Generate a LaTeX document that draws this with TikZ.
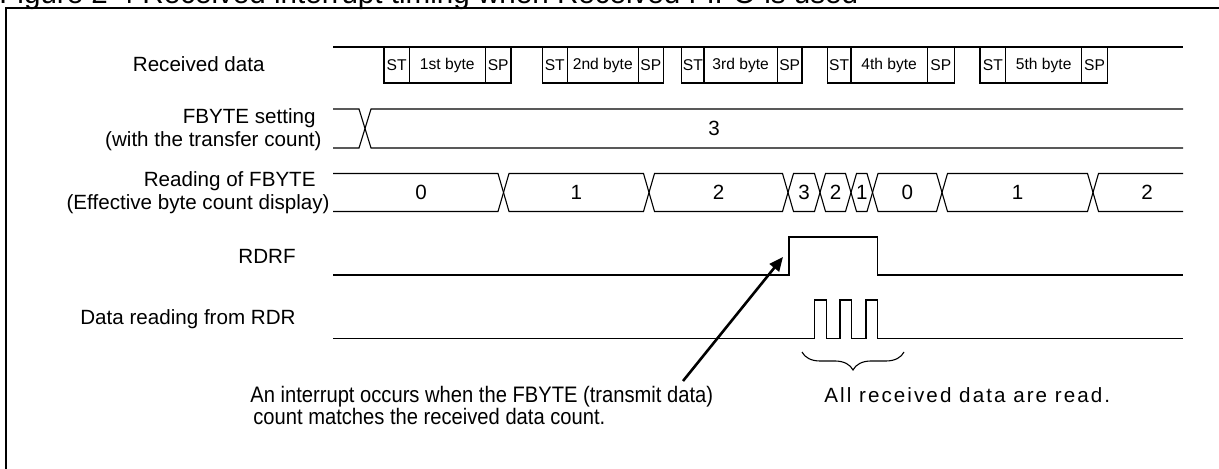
\documentclass[tikz,border=0pt]{standalone}
\usepackage{fontspec}
\setmainfont{Liberation Sans}
\usetikzlibrary{arrows.meta,decorations.pathreplacing}

\begin{document}
\begin{tikzpicture}[x=0.5pt,y=-0.5pt,
    sig/.style={line width=0.55pt},
    lbl/.style={anchor=base east, inner sep=0pt, font=\fontsize{10.3}{12}\selectfont},
    val/.style={inner sep=0pt, font=\fontsize{10.3}{12}\selectfont},
    bitlbl/.style={inner sep=0pt, font=\fontsize{7.8}{9}\selectfont},
    note/.style={anchor=base west, inner sep=0pt, font=\fontsize{10.3}{12}\selectfont},
    frame/.style={line width=1pt},
    arrow/.style={-{Triangle[length=7pt,width=6pt]}, line width=1.3pt}
]
\useasboundingbox (0,0) rectangle (1219,469);

% caption and frame
\node[anchor=base west, inner sep=0pt, font=\fontsize{14.8}{17}\selectfont] (title) at (-1,4)
    {Figure 2-4 Received interrupt timing when Received FIFO is used};
\draw[frame] (6,8) rectangle (1240,490);

% signal names
\node[lbl] (lrx) at (265,72) {Received data};
\node[lbl] (lfb1) at (316,124) {FBYTE setting};
\node[lbl] (lfb2) at (322,147) {(with the transfer count)};
\node[lbl] (lrd1) at (316,187) {Reading of FBYTE};
\node[lbl] (lrd2) at (330,210) {(Effective byte count display)};
\node[lbl] (lrdrf) at (296,264) {RDRF};
\node[lbl] (lrdr) at (296,325) {Data reading from RDR};

% received data frames
\draw[sig] (333,47) -- (1183,47);
\foreach \s/\m/\n/\e/\txt [count=\i] in {384/409.3/485.3/511/1st byte,
    542.3/567.3/638.3/663.3/2nd byte, 681.7/704/777.3/802/3rd byte,
    827.3/851/927.3/954.3/4th byte, 980/1005.7/1081.7/1107.3/5th byte}{
  \draw[sig] (\s,47) rectangle (\e,83);
  \draw[sig] (\m,47) -- (\m,83) (\n,47) -- (\n,83);
  \node[bitlbl] (st\i) at ({(\s+\m)/2},65) {ST};
  \node[bitlbl] (by\i) at ({(\m+\n)/2},65) {\txt};
  \node[bitlbl] (sp\i) at ({(\n+\e)/2},65) {SP};
}

% FBYTE setting
\draw[sig] (333,109) -- (359,109) -- (371,148) -- (1183,148);
\draw[sig] (333,148) -- (359,148) -- (371,109) -- (1183,109);
\node[val] (fb) at (714,128.5) {3};

% reading of FBYTE
\draw[sig] (333,173.5) -- (498,173.5) -- (503.5,192.5) -- (498,211.5) -- (333,211.5);
\node[val] (rd0) at (421,192.5) {0};
\foreach \a/\b/\t [count=\i] in {503.5/649/1, 649/788/2, 788/820/3, 820/851/2,
    851/872.5/1, 872.5/942/0, 942/1093/1}{
  \draw[sig] (\a,192.5) -- (\a+5.5,173.5) -- (\b-5.5,173.5) -- (\b,192.5)
    -- (\b-5.5,211.5) -- (\a+5.5,211.5) -- cycle;
  \node[val] (rd\i) at ({(\a+\b)/2},192.5) {\t};
}
\draw[sig] (1183,173.5) -- (1098.5,173.5) -- (1093,192.5) -- (1098.5,211.5) -- (1183,211.5);
\node[val] (rd8) at (1147,192.5) {2};

% RDRF
\draw[sig] (333,275) -- (789,275) -- (789,237) -- (877.3,237) -- (877.3,275) -- (1183,275);

% data reading from RDR
\draw[sig] (333,338.3) -- (814.3,338.3) -- (814.3,300) -- (826.7,300) -- (826.7,338.3)
    -- (840,338.3) -- (840,300) -- (851.7,300) -- (851.7,338.3)
    -- (866,338.3) -- (866,300) -- (877.3,300) -- (877.3,338.3) -- (1183,338.3);
\draw[sig, decorate, decoration={brace, amplitude=9pt}] (904,352) -- (802,352);

% notes
\coordinate (irqtail) at (683,381);
\coordinate (irqtip) at (783,257);
\draw[arrow] (irqtail) -- (irqtip);
\node[note] (irq1) at (250,403) {\scalebox{0.9}[1]{\fontsize{11.2}{13}\selectfont An interrupt occurs when the FBYTE (transmit data)}};
\node[note] (irq2) at (253,425) {\scalebox{0.9}[1]{\fontsize{11.2}{13}\selectfont count matches the received data count.}};
\node[note, font=\fontsize{10.3}{12}\selectfont\addfontfeature{LetterSpace=10}] (allread) at (824,403)
    {All received data are read.};
\end{tikzpicture}
\end{document}
